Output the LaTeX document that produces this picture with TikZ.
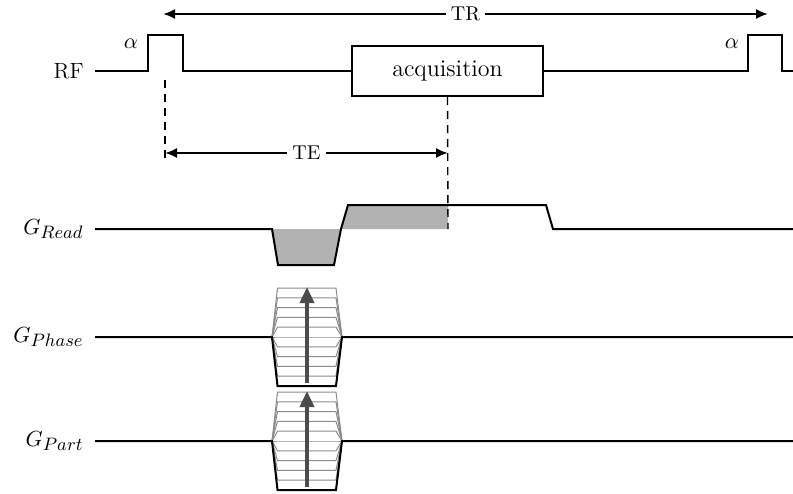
\documentclass[tikz,border=0pt]{standalone}
\usetikzlibrary{arrows.meta}
\DeclareMathSizes{11}{11}{9.5}{7}
\begin{document}
\begin{tikzpicture}[x=0.5pt,y=-0.5pt,
  sig/.style={line width=1pt, line join=miter},
  lblfont/.style={font=\fontsize{11}{13}\selectfont},
  lbl/.style={lblfont, anchor=east, inner xsep=5.5pt, inner ysep=0pt},
  dim/.style={line width=1pt, {Latex[length=6pt,width=5pt]}-{Latex[length=6pt,width=5pt]}},
  dimlbl/.style={fill=white, inner xsep=2.5pt, inner ysep=1pt, font=\normalsize},
  guide/.style={line width=0.7pt, dash pattern=on 4pt off 3pt},
  gline/.style={line width=0.5pt, draw=black!45},
  enc/.style={line width=1.8pt, draw=black!70, -{Triangle[length=8pt,width=7pt]}},
  lobe/.style={fill=black!30, draw=none}
]
\useasboundingbox (0,0) rectangle (793,493);

% ---------- RF ----------
\node[lbl] (rf) at (95,71) {RF};
\node[draw, line width=1pt, minimum width=95.5pt, minimum height=25pt, inner sep=0pt, font=\large] (acq) at (447.5,71) {acquisition};
\node[lblfont] (a1) at (131,44) {$\alpha$};
\node[lblfont] (a2) at (732,44) {$\alpha$};
\coordinate (rfend) at (793,71);
\draw[sig] (rf.east) -- (148,71) -- (148,35) -- (183,35) -- (183,71) -- (acq.west);
\draw[sig] (acq.east) -- (748,71) -- (748,35) -- (782,35) -- (782,71) -- (rfend);

% ---------- TR / TE ----------
\coordinate (trL) at (163,14);
\coordinate (trR) at (768,14);
\draw[dim] (trL) -- node[dimlbl] (tr) {TR} (trR);
\coordinate (teT) at (165,80);
\coordinate (teB) at (165,163);
\coordinate (teL) at (165,153);
\coordinate (teR) at (448,153);
\draw[guide] (teT) -- (teB);
\draw[dim] (teL) -- node[dimlbl] (te) {TE} (teR);
\coordinate (echo) at (448,229);

% ---------- G Read ----------
\node[lbl] (grd) at (95,229) {$G_{Read}$};
\coordinate (rdend) at (793,229);
\fill[lobe] (272,229) -- (278,265) -- (334,265) -- (341,229) -- cycle;
\fill[lobe] (341,229) -- (348,205) -- (448,205) -- (echo) -- cycle;
\draw[sig] (grd.east) -- (272,229) -- (278,265) -- (334,265) -- (341,229) -- (348,205) -- (546,205) -- (553,229) -- (rdend);
\draw[guide] (acq.south) -- (echo);

% ---------- G Phase ----------
\node[lbl] (gph) at (95,337) {$G_{Phase}$};
\coordinate (phL) at (272,337);
\coordinate (phR) at (342,337);
\coordinate (phend) at (793,337);
\foreach \k in {-5,...,5}
  \draw[gline] (phL) -- ++(5.5,{-9.8*\k}) -- ++(58.5,0) -- (phR);
\draw[sig] (gph.east) -- (phL) -- ++(5.5,49) -- ++(58.5,0) -- (phR) -- (phend);
\coordinate (phA0) at (307,383);
\coordinate (phA1) at (307,287);
\draw[enc] (phA0) -- (phA1);

% ---------- G Part ----------
\node[lbl] (gpt) at (95,441) {$G_{Part}$};
\coordinate (ptL) at (272,441);
\coordinate (ptR) at (342,441);
\coordinate (ptend) at (793,441);
\foreach \k in {-5,...,5}
  \draw[gline] (ptL) -- ++(5.5,{-9.8*\k}) -- ++(58.5,0) -- (ptR);
\draw[sig] (gpt.east) -- (ptL) -- ++(5.5,49) -- ++(58.5,0) -- (ptR) -- (ptend);
\coordinate (ptA0) at (307,487);
\coordinate (ptA1) at (307,391);
\draw[enc] (ptA0) -- (ptA1);
\end{tikzpicture}
\end{document}
